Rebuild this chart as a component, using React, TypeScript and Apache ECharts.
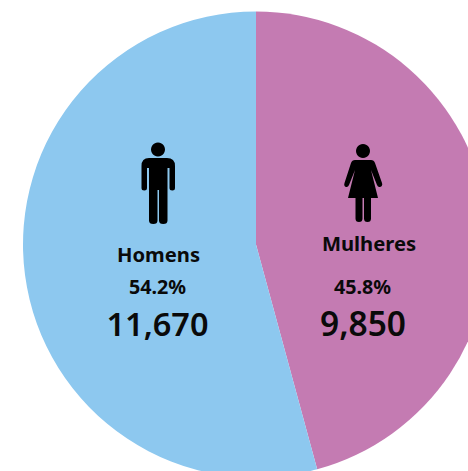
import React, { useEffect, useRef } from "react";
import * as echarts from "echarts";

const categories = ["Mulheres", "Homens"];
const values = [9850, 11670];
const percents = ["45.8%", "54.2%"];
const totals = ["9,850", "11,670"];
const colors = ["#C47BB2", "#8DC8EF"];

const manPath =
  "M149 158 H167 Q175 158 175 166 V188 Q175 190.5 172.3 190.5 Q169.5 190.5 169.5 188 V168 H167.5 V220.5 Q167.5 224 163.2 224 Q159 224 159 220.5 V190 H157.5 V220.5 Q157.5 224 153.3 224 Q149 224 149 220.5 V168 H147 V188 Q147 190.5 144.2 190.5 Q141.5 190.5 141.5 188 V166 Q141.5 158 149 158 Z";
const womanPath =
  "M355 160 H371 Q374 160 375 163 L382 183 Q383 186 380 187 Q378 187.5 377 185 L371 170 L378 198 H371 V218.5 Q371 222 367.5 222 Q364 222 364 218.5 V198 H362.5 V218.5 Q362.5 222 359 222 Q355.5 222 355.5 218.5 V198 H348 L355 170 L349 185 Q348 187.5 346 187 Q343.5 186 344.5 183 L351 163 Q352 160 355 160 Z";

echarts.graphic.registerShape("manIcon", echarts.graphic.extendPath(manPath, {}));
echarts.graphic.registerShape("womanIcon", echarts.graphic.extendPath(womanPath, {}));

const font = '"Noto Sans", "Open Sans", sans-serif';

function label(text: string, x: number, y: number, size: number, weight: number | string) {
  return {
    type: "text",
    x,
    y,
    z: 20,
    silent: true,
    style: {
      text,
      fill: "#0a0a0a",
      font: `${weight} ${size}px ${font}`,
      textAlign: "center",
      textVerticalAlign: "middle",
    },
  };
}

export default function App() {
  const ref = useRef<HTMLDivElement>(null);
  useEffect(() => {
    document.body.style.margin = "0";
    const chart = echarts.init(ref.current!, undefined, { renderer: "svg" });
    chart.setOption({
      animation: false,
      backgroundColor: "#ffffff",
      series: [
        {
          type: "pie",
          z: 1,
          center: [256, 244.5],
          radius: [0, 233],
          startAngle: 90,
          clockwise: true,
          label: { show: false },
          labelLine: { show: false },
          silent: true,
          data: categories.map((name, i) => ({
            name,
            value: values[i],
            itemStyle: { color: colors[i] },
          })),
        },
      ],
      graphic: {
        z: 20,
        elements: [
          { type: "manIcon", x: 0, y: 0, z: 20, silent: true, style: { fill: "#000" } },
          { type: "circle", z: 20, shape: { cx: 158, cy: 149.5, r: 7 }, silent: true, style: { fill: "#000" } },
          { type: "womanIcon", x: 0, y: 0, z: 20, silent: true, style: { fill: "#000" } },
          { type: "circle", z: 20, shape: { cx: 363, cy: 151, r: 7 }, silent: true, style: { fill: "#000" } },
          label(categories[1], 158.5, 253.5, 20.2, 700),
          label(percents[1], 157.5, 286.5, 19.7, 700),
          label(totals[1], 157.5, 323, 32.5, 600),
          label(categories[0], 369, 242.5, 20.2, 700),
          label(percents[0], 362.5, 286.5, 19.7, 700),
          label(totals[0], 363, 323, 33.5, 600),
        ],
      },
    });
    return () => chart.dispose();
  }, []);
  return <div ref={ref} style={{ position: "absolute", left: 0, top: 0, width: 468, height: 471 }} />;
}
